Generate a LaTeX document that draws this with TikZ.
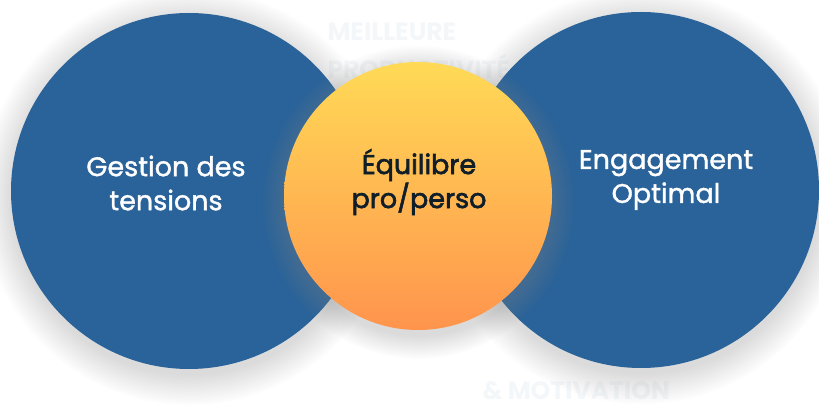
\documentclass[tikz,border=0pt]{standalone}
\usepackage{fontspec}
\setmainfont{Poppins}
\newfontfamily\moyen[FakeBold=1.3]{Poppins}
\newfontfamily\epais[FakeBold=2.2]{Poppins}
\usetikzlibrary{shadows}

\definecolor{bleu}{HTML}{2A6399}
\definecolor{jaune}{HTML}{FFDA56}
\definecolor{orange}{HTML}{FF944D}
\definecolor{encre}{HTML}{0F1E28}
\definecolor{pale}{HTML}{F4F7F9}

\tikzset{
  ombre/.style={circular drop shadow={shadow scale=1.17, opacity=.28, shadow xshift=0pt, shadow yshift=-5pt}},
  rond/.style={circle, fill=bleu, inner sep=0pt, minimum size=356pt, ombre},
  centre/.style={circle, inner sep=0pt, minimum size=268pt, shading=axis, top color=jaune, bottom color=orange, ombre},
  titre/.style={align=center, font=\moyen\fontsize{27}{34}\selectfont},
  fond/.style={align=left, anchor=west, text=pale, font=\bfseries\fontsize{25}{38}\selectfont}
}

\begin{document}
\begin{tikzpicture}[x=1pt, y=1pt]
\useasboundingbox (0,0) rectangle (819,407);
\fill [white] (0,0) rectangle (819,407);

% textes en fond, presque invisibles
\node [fond] (meilleure) at (324,356) {MEILLEURE\\PRODUCTIVITÉ};
\node [fond] (motivation) at (479,16) {\& MOTIVATION};

% les trois cercles
\node [rond] (gauche) at (189,216) {};
\node [rond] (droite) at (641,217) {};
\node [centre] (milieu) at (418,211) {};

\node [titre, text=white] (tensions) at (166,224) {Gestion des\\tensions};
\node [titre, text=encre, font=\epais\fontsize{27}{34}\selectfont] (equilibre) at (419,225) {Équilibre\\pro/perso};
\node [titre, text=white] (engagement) at (666,227) {Engagement\\Optimal};
\end{tikzpicture}
\end{document}
